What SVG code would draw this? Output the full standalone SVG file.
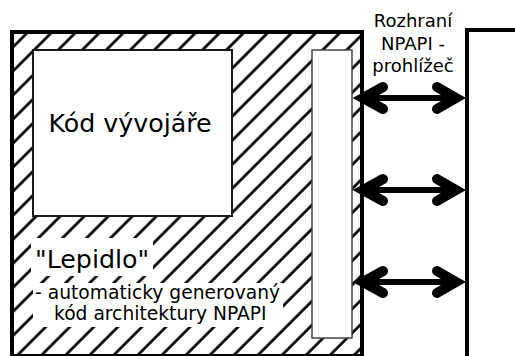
<svg xmlns="http://www.w3.org/2000/svg" width="515" height="356" viewBox="0 0 515 356">
  <style>
    text { font-family: "DejaVu Sans", "Liberation Sans", sans-serif; fill: #000; }
    .big { font-size: 25.3px; }
    .small { font-size: 18.7px; }
    .label { font-size: 18px; text-anchor: middle; }
    .thick { fill: none; stroke: #000; stroke-width: 4; }
    .bg { fill: #fff; stroke: none; }
    .shaft { fill: none; stroke: #000; stroke-width: 6; }
    .head { fill: none; stroke: #000; stroke-width: 10; stroke-linecap: round; stroke-linejoin: miter; }
  </style>
  <defs>
    <pattern id="hatch" patternUnits="userSpaceOnUse" width="17" height="17" patternTransform="rotate(45)">
      <rect width="17" height="17" fill="#fff"/>
      <line x1="8.5" y1="-1" x2="8.5" y2="18" stroke="#000" stroke-width="2.7"/>
    </pattern>
  </defs>
  <rect width="515" height="356" fill="#fff"/>

  <g id="plugin">
    <rect x="12" y="32" width="350" height="324" class="thick" style="fill:url(#hatch)"/>
  </g>

  <g id="developer-code">
    <rect x="33" y="50" width="199" height="166" fill="#fff" stroke="#1a1a1a" stroke-width="2"/>
    <text class="big" x="130" y="132" text-anchor="middle">Kód vývojáře</text>
  </g>

  <g id="glue">
    <rect class="bg" x="31" y="238" width="122" height="38"/>
    <rect class="bg" x="33" y="283" width="250" height="44"/>
    <text class="big" x="35" y="268">"Lepidlo"</text>
    <text class="small" x="35" y="299">- automaticky generovaný</text>
    <text class="small" x="54" y="320">kód architektury NPAPI</text>
  </g>

  <g id="npapi-layer">
    <rect x="312" y="50" width="40" height="288" fill="#fff" stroke="#444" stroke-width="1.5"/>
  </g>

  <g id="browser">
    <path class="thick" d="M467,356 V30 H520"/>
  </g>

  <g id="interface-label">
    <text class="label" x="413" y="27">Rozhraní</text>
    <text class="label" x="413" y="50">NPAPI -</text>
    <text class="label" x="413" y="72">prohlížeč</text>
  </g>

  <g id="connectors">
    <g id="arrow1">
      <line class="shaft" x1="358" y1="98" x2="460" y2="98"/>
      <polyline class="head" points="383,87 363,98 383,109"/>
      <polyline class="head" points="437,87 456,98 437,109"/>
    </g>
    <g id="arrow2">
      <line class="shaft" x1="358" y1="190" x2="460" y2="190"/>
      <polyline class="head" points="383,179 363,190 383,201"/>
      <polyline class="head" points="437,179 456,190 437,201"/>
    </g>
    <g id="arrow3">
      <line class="shaft" x1="358" y1="282" x2="460" y2="282"/>
      <polyline class="head" points="383,271 363,282 383,293"/>
      <polyline class="head" points="437,271 456,282 437,293"/>
    </g>
  </g>
</svg>
